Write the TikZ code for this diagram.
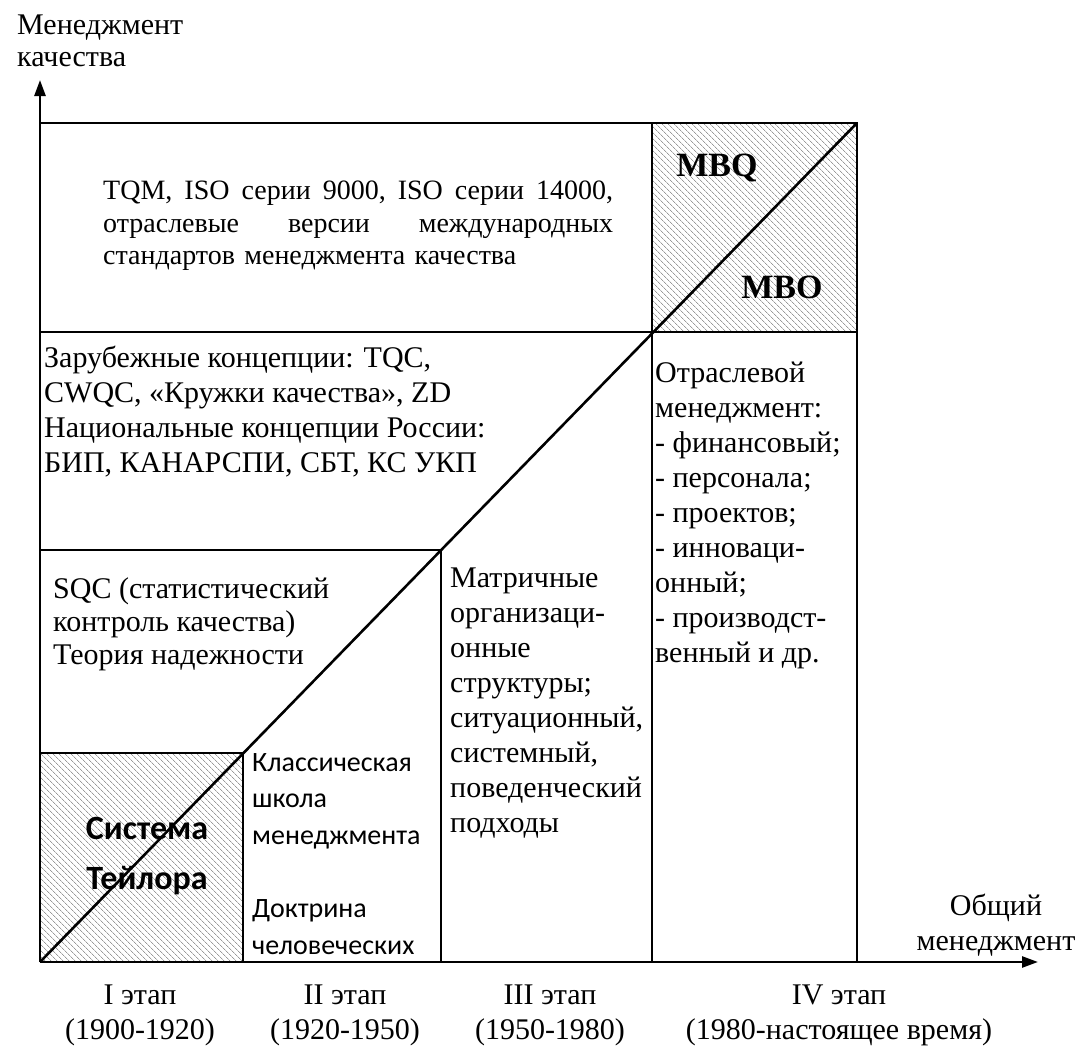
\documentclass[tikz,border=0pt]{standalone}
\usepackage{fontspec}
\setmainfont{Liberation Serif}
\newfontfamily\calibrifont{Carlito}
\usetikzlibrary{arrows.meta,patterns.meta,positioning}

\tikzset{
  grid line/.style={line width=1.4pt},
  stage line/.style={line width=2.6pt},
  axis line/.style={line width=2.6pt,-{Triangle[length=16pt,width=11pt]}},
  hatched/.style={pattern={Lines[angle=-45,distance=4pt,line width=0.8pt]},pattern color=black!40},
  times text/.style={inner sep=0pt,align=left,execute at begin node=\strut,
    font=\fontsize{30}{#1}\selectfont},
  times text/.default=35,
  stage label/.style={inner sep=0pt,anchor=north,align=center,execute at begin node=\strut,
    font=\fontsize{30}{35}\selectfont}
}

\begin{document}
\begin{tikzpicture}[x=1pt,y=-1pt]
  \useasboundingbox (0,0) rectangle (1080,1052);

  % hatched squares
  \fill[hatched] (40,753) rectangle (243,962);
  \fill[hatched] (652,123) rectangle (857,332);

  % cells
  \draw[grid line] (40,123) -- (857,123) -- (857,962);
  \draw[grid line] (40,332) -- (857,332);
  \draw[grid line] (40,550) -- (441,550) -- (441,962);
  \draw[grid line] (40,753) -- (243,753) -- (243,962);
  \draw[grid line] (652,123) -- (652,962);

  % axes
  \coordinate (origin) at (40,962);
  \coordinate (quality tip) at (40,80);
  \coordinate (general tip) at (1038,962);
  \coordinate (diag end) at (857,123);
  \draw[stage line] (origin) -- (diag end);
  \draw[axis line] (origin) -- (quality tip);
  \draw[axis line] (origin) -- (general tip);

  % axis titles
  \node[times text=32,anchor=north west] (qm) at (17,15) {Менеджмент\\качества};
  \node[times text=35,anchor=north,align=center] (gm) at (996,894) {Общий\\менеджмент};

  % cell texts
  \node[times text=32.5,anchor=north west,text width=510pt,font=\fontsize{28}{32.5}\selectfont] (tqm) at (103,177)
    {\makebox[\linewidth]{TQM,\hfill ISO\hfill серии\hfill 9000,\hfill ISO\hfill серии\hfill 14000,}\\
     \makebox[\linewidth]{отраслевые\hfill версии\hfill международных}\\
     стандартов менеджмента качества};
  \node[times text=35,anchor=north west] (foreign) at (44,346)
    {Зарубежные концепции: TQC,\\CWQC, «Кружки качества», ZD\\
     Национальные концепции России:\\БИП, КАНАРСПИ, СБТ, КС УКП};
  \node[times text=33,anchor=north west] (sqc) at (53,577)
    {SQC (статистический\\контроль качества)\\Теория надежности};
  \node[times text=35,anchor=north west] (matrix) at (450,568)
    {Матричные\\организаци-\\онные\\структуры;\\ситуационный,\\системный,\\поведенческий\\подходы};
  \node[times text=35,anchor=north west] (branch) at (655,362)
    {Отраслевой\\менеджмент:\\- финансовый;\\- персонала;\\- проектов;\\- инноваци-\\онный;\\- производст-\\венный и др.};
  \node[inner sep=0pt,anchor=north west,align=left,execute at begin node=\strut,
    font=\calibrifont\fontsize{28}{36.6}\selectfont] (classic) at (252,753)
    {Классическая\\школа\\менеджмента\\[36.6pt]Доктрина\\человеческих};
  \node[inner sep=0pt,anchor=north,align=center,execute at begin node=\strut,
    font=\calibrifont\bfseries\fontsize{34}{50}\selectfont] (taylor) at (147,817)
    {Система\\Тейлора};
  \node[font=\bfseries\fontsize{34}{40}\selectfont,inner sep=0pt] (mbq) at (717,168) {MBQ};
  \node[font=\bfseries\fontsize{34}{40}\selectfont,inner sep=0pt] (mbo) at (782,287) {MBO};

  % stages
  \node[stage label] (st1) at (140,985) {I этап\\(1900-1920)};
  \node[stage label] (st2) at (345,985) {II этап\\(1920-1950)};
  \node[stage label] (st3) at (550,985) {III этап\\(1950-1980)};
  \node[stage label] (st4) at (839,985) {IV этап\\(1980-настоящее время)};
\end{tikzpicture}
\end{document}
